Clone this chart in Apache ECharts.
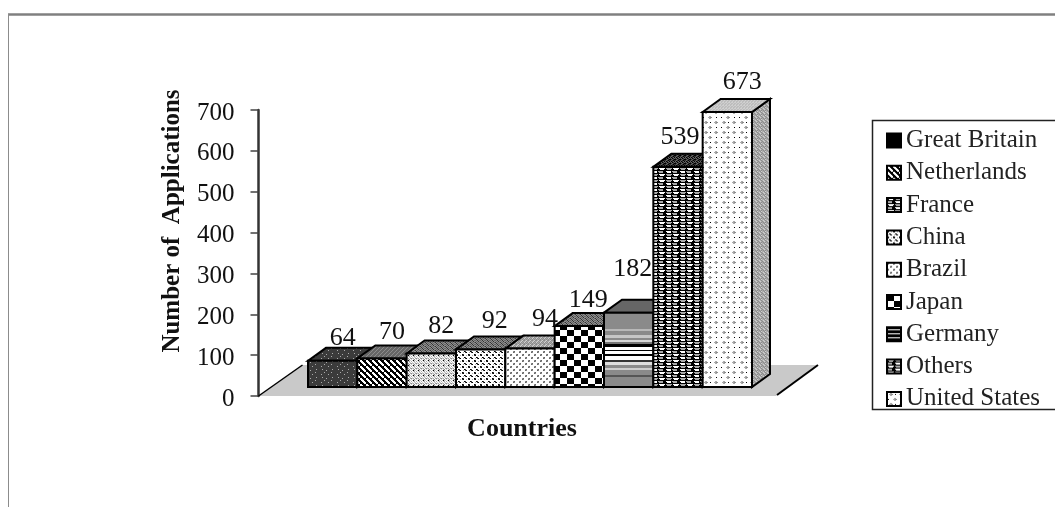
<!DOCTYPE html>
<html>
<head>
<meta charset="utf-8">
<style>html,body{margin:0;padding:0;background:#fff}#chart{width:1055px;height:507px}</style>
<script src="https://cdn.jsdelivr.net/npm/echarts@6/dist/echarts.min.js"></script>
</head>
<body>
<div id="chart"></div>
<script>
// Applications per country
const countries = ['Great Britain','Netherlands','France','China','Brazil','Japan','Germany','Others','United States'];
const applications = [64,70,82,92,94,149,182,539,673];
const valueTicks = [0,100,200,300,400,500,600,700];

// Value labels sit slightly off the bar centre, as dx and dy from the front top edge
const labelNudgeX = [10,10,10,14,15,9,4,2,15];
const labelNudgeY = [-23,-26,-27,-28,-29,-26,-43,-30,-30];

const SERIF = '"Liberation Serif","Times New Roman",serif';
const DEPTH_X = 18, DEPTH_Y = 13, FRONT_RAISE = 9;

// Builds a repeating fill from rows of palette characters
function tile(rows, palette) {
  const c = document.createElement('canvas');
  c.width = rows[0].length; c.height = rows.length;
  const g = c.getContext('2d');
  rows.forEach((row, y) => [...row].forEach((ch, x) => {
    g.fillStyle = palette[ch]; g.fillRect(x, y, 1, 1);
  }));
  return { image: c, repeat: 'repeat' };
}

const P = { k:'#000', d:'#333', m:'#666', g:'#8c8c8c', s:'#aaa', l:'#cfcfcf', w:'#fff', b:'#3b3b3b', c:'#bdbdbd' };

const darkSpeckle = tile([
  'bbbbbbbbbbbbbbbb','bbsbbbbbbbbbsbbb','bbbbbbsbbbbbbbbb','bbbbbbbbbbbbbbbb',
  'bbbbsbbbbbbsbbbb','bbbbbbbbbbbbbbbb','bsbbbbbbsbbbbbbb','bbbbbbbbbbbbbbbb'], P);
const diagonal = tile(['wwkkkk','wwwkkk','kwwwkk','kkwwwk','kkkwww','kkkkww'], P);
const slantGrey = tile(['mmgm','mgmm','gmmm','mmmg'], P);
const mottled = tile(['lwlkl','wswls','lwlwl','sglsw','wlwlg'], P);
const denseDots = tile(['kdwwww','dkwwsw','wwwwww','wwkdww','wswdkw','wwwwww'], P);
const sparseDots = tile(['gmwwww','mgwwww','wwwwww','wwwgmw','wwwmgw','wwwwww'], P);
const greyWeave = tile(['gslg','slgs','lgsg','gsgs'], P);
const checker = tile([
  'kkkkkkkwwwwwww','kkkkkkkwwwwwww','kkkkkkkwwwwwww','kkkkkkkwwwwwww','kkkkkkkwwwwwww','kkkkkkkwwwwwww',
  'wwwwwwwkkkkkkk','wwwwwwwkkkkkkk','wwwwwwwkkkkkkk','wwwwwwwkkkkkkk','wwwwwwwkkkkkkk','wwwwwwwkkkkkkk'], P);
const weaveDark = tile(['mgdgm','gmgdg','dgmgm','gdgmg'], P);
const othersFront = tile([
  'kwwwwwwkssssss','kkwwwwkkkssssk','kkkkkkkkkkkkkk',
  'ssssskkkwwwwwk','ksssskkkkwwwwk','kkkkkkkkkkkkkk'], P);
const othersTop = tile(['dmdkd','mkdmk','dmkdm','kdmdk'], P);
const usFront = tile([
  'wwwwwwwwwwwwwwwwww','wwwsswwwwwwwwsswww','wwssggwwkwwwssggww','wwwsswwwwwwwwsswww',
  'wwwwwwwwwwwwwwwwww','wwwwwwwwwwwwwwwwww','wwwwwwwsswwwwwwwww','wkwwwwssggwwwwkwww',
  'wwwwwwwsswwwwwwwww','wwwwwwwwwwwwwwwwww'], P);
const usSide = tile(['sgsl','lsgs','sgsg','glss'], P);
const usTop = tile(['lcl','clc','lcc'], P);
const blackStripes = tile(['k','k','w','k'], P);
const swatchSolid = '#000';

// Germany's banded front runs from flat grey through pale and white stripes near the middle
function bandedStops(bands) {
  const stops = [];
  bands.forEach(([from, to, colour]) => {
    stops.push({ offset: from, color: colour }, { offset: to, color: colour });
  });
  return new echarts.graphic.LinearGradient(0, 0, 0, 1, stops);
}
const germanyFront = bandedStops([
  [0,.23,'#8a8a8a'],[.23,.26,'#b8b8b8'],[.26,.31,'#8a8a8a'],[.31,.34,'#c6c6c6'],[.34,.37,'#8a8a8a'],
  [.37,.40,'#d8d8d8'],[.40,.43,'#777'],[.43,.46,'#000'],[.46,.50,'#fff'],[.50,.52,'#000'],[.52,.56,'#fff'],
  [.56,.58,'#000'],[.58,.63,'#fff'],[.63,.66,'#333'],[.66,.70,'#ddd'],[.70,.74,'#8a8a8a'],[.74,.77,'#ccc'],
  [.77,.83,'#8a8a8a'],[.83,.86,'#555'],[.86,1,'#8a8a8a']
]);

// Face fills for each country: front, top, side, legend swatch
const frontFills = [darkSpeckle, diagonal, mottled, denseDots, sparseDots, checker, germanyFront, othersFront, usFront];
const topFills = [darkSpeckle, slantGrey, weaveDark, weaveDark, greyWeave, weaveDark, '#666', othersTop, usTop];
const sideFills = ['#333', '#555', '#999', '#999', '#999', '#888', '#666', '#444', usSide];
const swatchFills = [swatchSolid, diagonal, othersFront, denseDots, sparseDots, checker, blackStripes, othersFront, usFront];

function renderFloor(params, api) {
  const cs = params.coordSys;
  const y0 = cs.y + cs.height, yb = y0 - 31;
  const xl = cs.x - 49.5, xr = cs.x + cs.width + 24;
  return { type: 'group', children: [
    { type: 'polygon', shape: { points: [[xl, y0], [xl + 44, yb], [xr + 42, yb], [xr, y0]] },
      style: { fill: '#c9c9c9', stroke: null } },
    { type: 'line', shape: { x1: xl, y1: y0, x2: xl + 44, y2: yb }, style: { stroke: '#000', lineWidth: 1.5 } },
    { type: 'line', shape: { x1: xr + 1, y1: y0 - 1, x2: xr + 42, y2: yb }, style: { stroke: '#000', lineWidth: 2 } }
  ]};
}

function barRenderer(index) {
  return function (params, api) {
    const value = api.value(1);
    const top = api.coord([index, value]);
    const base = api.coord([index, 0]);
    const w = api.size([1, 0])[0];
    const x = top[0] - w / 2, yT = top[1] - FRONT_RAISE, yB = base[1] - FRONT_RAISE;
    const edge = { stroke: '#000', lineWidth: 2, lineJoin: 'miter' };
    return { type: 'group', children: [
      { type: 'polygon', shape: { points: [[x + w, yT], [x + w + DEPTH_X, yT - DEPTH_Y], [x + w + DEPTH_X, yB - DEPTH_Y], [x + w, yB]] },
        style: Object.assign({ fill: sideFills[index] }, edge) },
      { type: 'polygon', shape: { points: [[x, yT], [x + DEPTH_X, yT - DEPTH_Y], [x + w + DEPTH_X, yT - DEPTH_Y], [x + w, yT]] },
        style: Object.assign({ fill: topFills[index] }, edge) },
      { type: 'rect', shape: { x: x, y: yT, width: w, height: yB - yT },
        style: Object.assign({ fill: frontFills[index] }, edge) }
    ]};
  };
}

// Value labels are drawn in a later pass so a taller neighbour never hides them
function labelRenderer(index) {
  return function (params, api) {
    const value = api.value(1);
    const top = api.coord([index, value]);
    return { type: 'text', style: {
      x: top[0] + labelNudgeX[index], y: top[1] - FRONT_RAISE + labelNudgeY[index],
      text: String(value), align: 'center', verticalAlign: 'middle',
      font: '26px ' + SERIF, fill: '#111' } };
  };
}

const chart = echarts.init(document.getElementById('chart'), null, { renderer: 'canvas' });
chart.setOption({
  animation: false,
  backgroundColor: '#fff',
  grid: { left: 308, width: 444, top: 110, height: 286 },
  xAxis: {
    type: 'category', data: countries, boundaryGap: true,
    axisLine: { show: false }, axisTick: { show: false }, axisLabel: { show: false },
    name: 'Countries', nameLocation: 'middle', nameGap: 20,
    nameTextStyle: { fontFamily: SERIF, fontWeight: 'bold', fontSize: 26, color: '#111', padding: [0, 16, 0, 0] }
  },
  yAxis: {
    type: 'value', min: 0, max: 700, interval: 100, offset: 49.5,
    axisLine: { show: true, lineStyle: { color: '#333', width: 2.5 } },
    axisTick: { show: true, length: 8, lineStyle: { color: '#444', width: 1.5 } },
    axisLabel: { fontFamily: SERIF, fontSize: 25, color: '#111', margin: 24, verticalAlign: 'top', lineHeight: 6,
      formatter: v => valueTicks.includes(v) ? String(v) : '' },
    splitLine: { show: false },
    name: 'Number of  Applications', nameLocation: 'middle', nameGap: 73, nameRotate: 90,
    nameTextStyle: { fontFamily: SERIF, fontWeight: 'bold', fontSize: 25, color: '#111', padding: [0, 0, 0, 64] }
  },
  legend: {
    orient: 'vertical', left: 881, top: 120, itemWidth: 14, itemHeight: 14, itemGap: 7.3, padding: [8, 0, 0, 5],
    selectedMode: false, icon: 'rect',
    textStyle: { fontFamily: SERIF, fontSize: 25, color: '#222', padding: 0 },
    data: countries.map((name, i) => ({ name, itemStyle: { color: swatchFills[i], borderColor: '#000', borderWidth: 2 } }))
  },
  graphic: [
    { type: 'line', silent: true, shape: { x1: 8, y1: 14.5, x2: 1055, y2: 14.5 }, style: { stroke: '#808080', lineWidth: 2.5 } },
    { type: 'line', silent: true, shape: { x1: 8.5, y1: 14, x2: 8.5, y2: 507 }, style: { stroke: '#8c8c8c', lineWidth: 1 } },
    { type: 'rect', silent: true, shape: { x: 872.5, y: 120.5, width: 200, height: 289 }, style: { fill: null, stroke: '#222', lineWidth: 1.5 } }
  ],
  series: [
    { type: 'custom', name: '__floor', silent: true, z: 1, renderItem: renderFloor, data: [[0, 0]], encode: { x: 0, y: 1 } }
  ].concat(countries.map((name, i) => ({
    type: 'custom', name, z: 2 + i, silent: true,
    renderItem: barRenderer(i),
    data: [[i, applications[i]]],
    encode: { x: 0, y: 1 },
    clip: false
  }))).concat(countries.map((name, i) => ({
    type: 'custom', name: name + ' label', z: 30, silent: true,
    renderItem: labelRenderer(i),
    data: [[i, applications[i]]],
    encode: { x: 0, y: 1 },
    clip: false
  })))
});
</script>
</body>
</html>
